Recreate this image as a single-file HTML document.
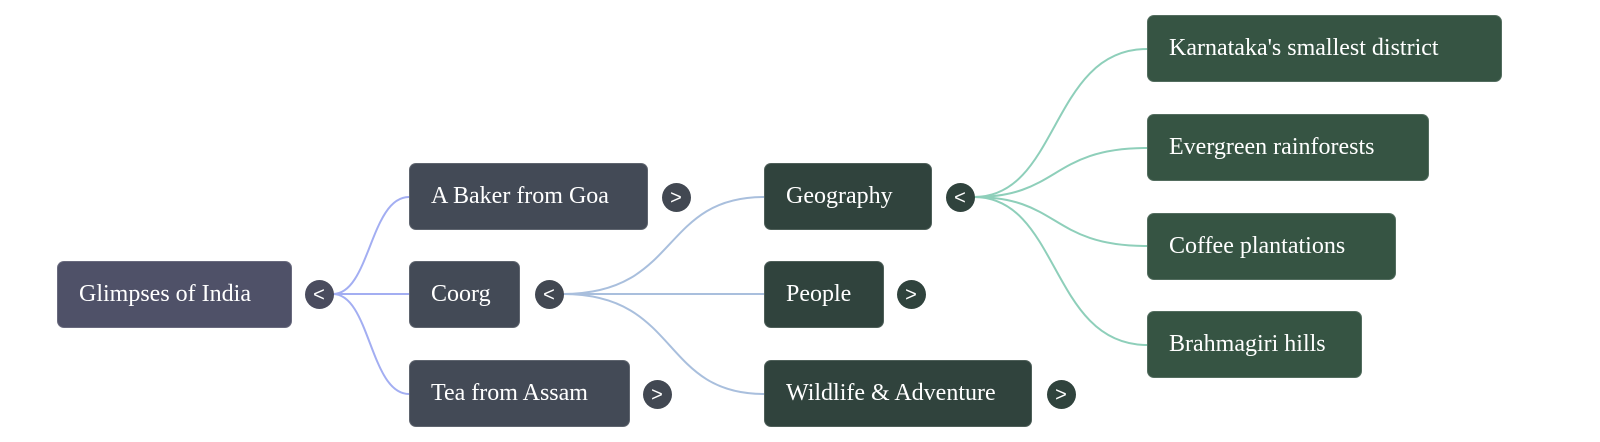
<!DOCTYPE html>
<html><head><meta charset="utf-8"><style>
html,body{margin:0;padding:0;background:#fff;width:1600px;height:442px;overflow:hidden;position:relative}
.n{position:absolute;border-radius:7px;color:#fff;font-family:"Liberation Serif",serif;font-size:24px;box-sizing:border-box;padding-left:21px;display:flex;align-items:center;border:1px solid rgba(255,255,255,0.15)}
.r{background:#4f5168}.a{background:#434a56}.b{background:#30433d}.c{background:#365443}
.t{position:absolute;width:29px;height:29px;border-radius:50%;color:#fff;font-family:"Liberation Sans",sans-serif;font-size:20px;line-height:30px;text-align:center;margin-left:-14.5px;margin-top:-14.5px}
svg{position:absolute;left:0;top:0}
</style></head><body>
<svg width="1600" height="442" fill="none" stroke-width="2">
<g stroke="#a3aef2">
<path d="M333 294 C370 294 370 197 409 197"/>
<path d="M333 294 L409 294"/>
<path d="M333 294 C370 294 370 394 409 394"/>
</g>
<g stroke="#a9bfdd">
<path d="M563 294 C680 294 660 197 764 197"/>
<path d="M563 294 L764 294"/>
<path d="M563 294 C680 294 660 394 764 394"/>
</g>
<g stroke="#8ecfba">
<path d="M974 197 C1060 197 1050 49 1147 49"/>
<path d="M974 197 C1060 197 1050 148 1147 148"/>
<path d="M974 197 C1060 197 1050 246 1147 246"/>
<path d="M974 197 C1060 197 1050 345 1147 345"/>
</g>
</svg>
<div class="n r" style="left:57px;top:261px;width:235px;height:67px">Glimpses of India</div>
<div class="t" style="left:319px;top:294px;background:#4a4c5e">&lt;</div>
<div class="n a" style="left:409px;top:163px;width:239px;height:67px">A Baker from Goa</div>
<div class="n a" style="left:409px;top:261px;width:111px;height:67px">Coorg</div>
<div class="n a" style="left:409px;top:360px;width:221px;height:67px">Tea from Assam</div>
<div class="t" style="left:676px;top:197px;background:#424852">&gt;</div>
<div class="t" style="left:549px;top:294px;background:#424852">&lt;</div>
<div class="t" style="left:657px;top:394px;background:#424852">&gt;</div>
<div class="n b" style="left:764px;top:163px;width:168px;height:67px">Geography</div>
<div class="n b" style="left:764px;top:261px;width:120px;height:67px">People</div>
<div class="n b" style="left:764px;top:360px;width:268px;height:67px">Wildlife &amp; Adventure</div>
<div class="t" style="left:960px;top:197px;background:#30433d">&lt;</div>
<div class="t" style="left:911px;top:294px;background:#30433d">&gt;</div>
<div class="t" style="left:1061px;top:394px;background:#30433d">&gt;</div>
<div class="n c" style="left:1147px;top:15px;width:355px;height:67px">Karnataka's smallest district</div>
<div class="n c" style="left:1147px;top:114px;width:282px;height:67px">Evergreen rainforests</div>
<div class="n c" style="left:1147px;top:213px;width:249px;height:67px">Coffee plantations</div>
<div class="n c" style="left:1147px;top:311px;width:215px;height:67px">Brahmagiri hills</div>
</body></html>
